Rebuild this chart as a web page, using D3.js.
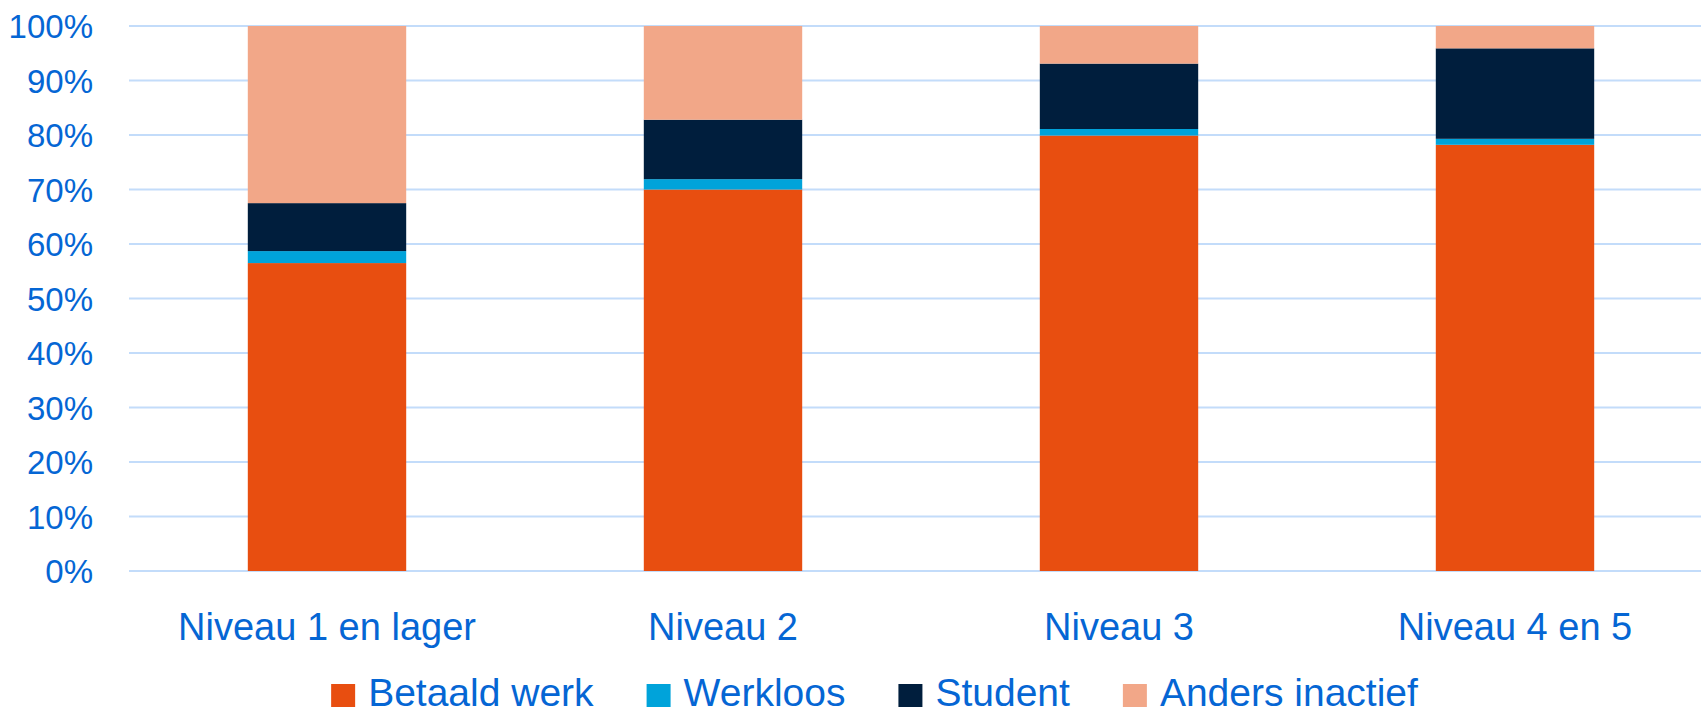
<!DOCTYPE html>
<html>
<head>
<meta charset="utf-8">
<script src="https://cdn.jsdelivr.net/npm/d3@7"></script>
<style>
  body { margin: 0; background: #fff; }
  text { font-family: "Liberation Sans", Arial, sans-serif; fill: #0566D4; }
</style>
</head>
<body>
<script>
// data (percent)
var categories = ["Niveau 1 en lager", "Niveau 2", "Niveau 3", "Niveau 4 en 5"];
var seriesNames = ["Betaald werk", "Werkloos", "Student", "Anders inactief"];
var betaaldWerk = [56.5, 70.0, 79.9, 78.2];
var werkloos = [2.2, 1.9, 1.2, 1.1];
var student = [8.8, 10.9, 12.0, 16.6];
var andersInactief = [32.5, 17.2, 6.9, 4.1];
var yTicks = [0, 10, 20, 30, 40, 50, 60, 70, 80, 90, 100];
var colors = ["#E84E10", "#00A3DA", "#001E3D", "#F2A788"];

// dimensions of the graph
var fullWidth = 1701, fullHeight = 716;
var plot = {left: 129, right: 1713, top: 26, bottom: 571};

// build rows for the stack
var data = categories.map(function(c, i) {
  return {
    cat: c,
    "Betaald werk": betaaldWerk[i],
    "Werkloos": werkloos[i],
    "Student": student[i],
    "Anders inactief": andersInactief[i]
  };
});

var stack = d3.stack().keys(seriesNames);
var layers = stack(data);

// set the ranges
var x = d3.scaleBand()
    .domain(categories)
    .range([plot.left, plot.right])
    .paddingInner(0.6)
    .paddingOuter(0.3);
var y = d3.scaleLinear().domain([0, 100]).range([plot.bottom, plot.top]);
var color = d3.scaleOrdinal().domain(seriesNames).range(colors);

var svg = d3.select("body").append("svg")
    .attr("width", fullWidth)
    .attr("height", fullHeight);

// gridlines
svg.append("g")
    .selectAll("line")
    .data(yTicks)
  .enter().append("line")
    .attr("x1", plot.left)
    .attr("x2", fullWidth)
    .attr("y1", function(d) { return y(d); })
    .attr("y2", function(d) { return y(d); })
    .attr("stroke", "#C3DCFA")
    .attr("stroke-width", 2);

// y axis labels
var yAxis = svg.append("g")
    .attr("transform", "translate(" + plot.left + ",0)")
    .call(d3.axisLeft(y).tickValues(yTicks).tickSize(0).tickPadding(36)
      .tickFormat(function(d) { return d + "%"; }));
yAxis.select(".domain").remove();
yAxis.selectAll("text")
    .attr("font-family", null)
    .style("font-size", "33px")
    .attr("fill", null)
    .attr("dy", "0.36em");

// bars
svg.append("g")
    .selectAll("g")
    .data(layers)
  .enter().append("g")
    .attr("fill", function(d) { return color(d.key); })
  .selectAll("rect")
    .data(function(d) { return d; })
  .enter().append("rect")
    .attr("x", function(d) { return x(d.data.cat); })
    .attr("y", function(d) { return y(d[1]); })
    .attr("height", function(d) { return y(d[0]) - y(d[1]); })
    .attr("width", x.bandwidth());

// x axis labels
var xAxis = svg.append("g")
    .attr("transform", "translate(0," + plot.bottom + ")")
    .call(d3.axisBottom(x).tickSize(0).tickPadding(0));
xAxis.select(".domain").remove();
xAxis.selectAll("text")
    .attr("font-family", null)
    .attr("fill", null)
    .attr("dy", null)
    .attr("y", 69)
    .style("font-size", "38px");

// legend
var legend = svg.append("g");
var lx = 0;
seriesNames.forEach(function(name, i) {
  var g = legend.append("g").attr("transform", "translate(" + lx + ",0)");
  g.append("rect")
      .attr("x", 0)
      .attr("y", 684)
      .attr("width", 24)
      .attr("height", 23)
      .attr("fill", color(name));
  var t = g.append("text")
      .attr("x", 37)
      .attr("y", 706)
      .style("font-size", "39px")
      .text(name);
  lx += 37 + t.node().getComputedTextLength() + 53;
});
var legendWidth = lx - 53;
legend.attr("transform", "translate(" + (874.5 - legendWidth / 2) + ",0)");
</script>
</body>
</html>
